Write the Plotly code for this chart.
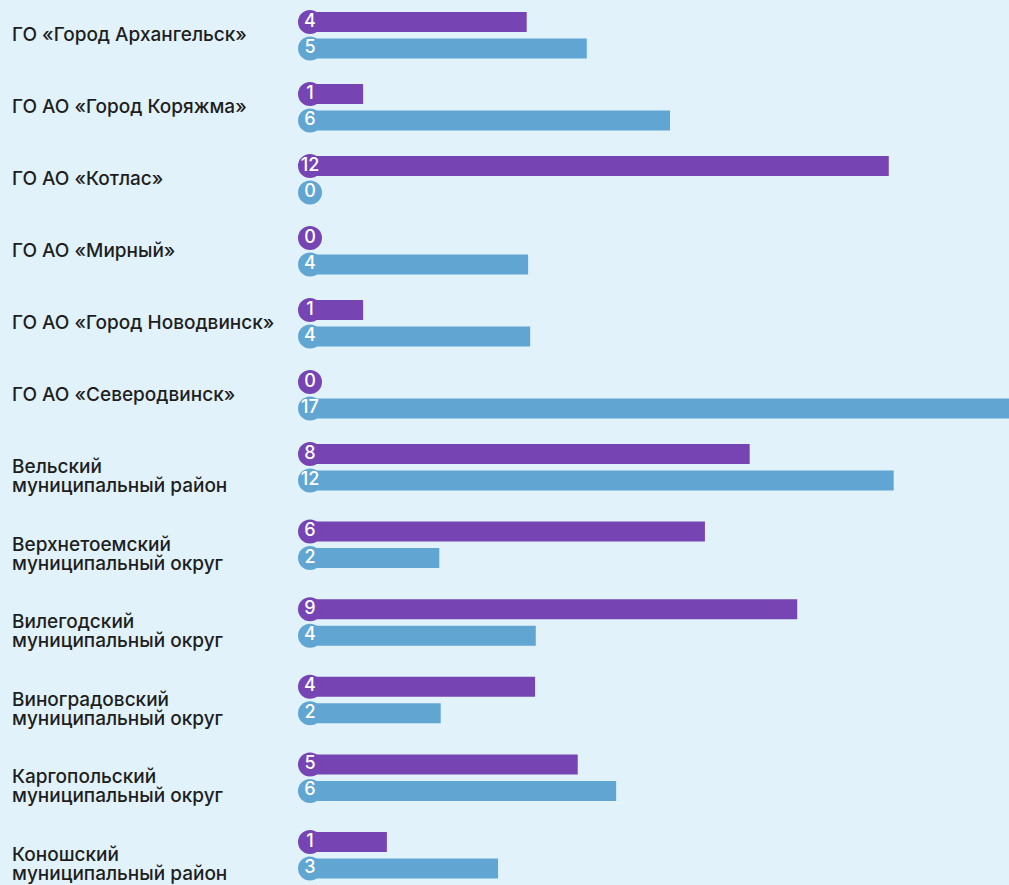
import plotly.graph_objects as go

# ---- data ----
categories = [
    "ГО «Город Архангельск»",
    "ГО АО «Город Коряжма»",
    "ГО АО «Котлас»",
    "ГО АО «Мирный»",
    "ГО АО «Город Новодвинск»",
    "ГО АО «Северодвинск»",
    "Вельский\nмуниципальный район",
    "Верхнетоемский\nмуниципальный округ",
    "Вилегодский\nмуниципальный округ",
    "Виноградовский\nмуниципальный округ",
    "Каргопольский\nмуниципальный округ",
    "Коношский\nмуниципальный район",
]
# numbers shown in the circles
purple_values = [4, 1, 12, 0, 1, 0, 8, 6, 9, 4, 5, 1]
blue_values = [5, 6, 0, 4, 4, 17, 12, 2, 4, 2, 6, 3]
# bar lengths (% of the bar track width)
purple_bar_pct = [31.0, 7.6, 82.8, 0, 7.6, 0, 62.9, 56.5, 69.7, 32.2, 38.3, 11.0]
blue_bar_pct = [39.6, 51.5, 0, 31.2, 31.5, 100, 83.5, 18.5, 32.3, 18.7, 43.8, 26.9]

# ---- style ----
PURPLE = "#7744B3"
BLUE = "#61A6D3"
BG = "#E1F2FA"
TEXT = "#1E1E1E"
FONT = "Inter"
W, H = 1009, 885
TRACK_LEFT = 310  # px where bars start (circle centre)

# layout of rows (pixel units on y axis)
purple_y, blue_y = [], []
y = 22.0
for lab in categories:
    purple_y.append(y)
    blue_y.append(y + 26.5)
    y += 77.6 if "\n" in lab else 72.0

px_per_unit = (W - TRACK_LEFT) / 100.0
x_min = -TRACK_LEFT / px_per_unit

fig = go.Figure()
fig.add_trace(go.Bar(x=purple_bar_pct, y=purple_y, orientation="h", width=20,
                     marker=dict(color=PURPLE, line=dict(width=0)), hoverinfo="skip"))
fig.add_trace(go.Bar(x=blue_bar_pct, y=blue_y, orientation="h", width=20,
                     marker=dict(color=BLUE, line=dict(width=0)), hoverinfo="skip"))
for ys, vals, col in [(purple_y, purple_values, PURPLE), (blue_y, blue_values, BLUE)]:
    fig.add_trace(go.Scatter(
        x=[0] * len(ys), y=ys, mode="markers+text",
        text=[str(v) for v in vals], textposition="middle center",
        textfont=dict(color="white", size=18, family=FONT, weight=500),
        marker=dict(size=24, color=col, line=dict(width=0)),
        cliponaxis=False, hoverinfo="skip",
    ))

label_x = x_min + 11 / px_per_unit
annotations = []
for lab, py in zip(categories, purple_y):
    for i, line in enumerate(lab.split("\n")):
        annotations.append(dict(
            x=label_x, y=py + 12.5 + 19 * i, xref="x", yref="y",
            text=line, showarrow=False, xanchor="left", yanchor="middle",
            font=dict(family=FONT, size=19, color=TEXT, weight=500), borderpad=0,
        ))

fig.update_layout(
    width=W, height=H,
    margin=dict(l=0, r=0, t=0, b=0),
    paper_bgcolor=BG, plot_bgcolor=BG,
    barmode="overlay", showlegend=False,
    annotations=annotations,
    xaxis=dict(range=[x_min, 100], visible=False, fixedrange=True),
    yaxis=dict(range=[H, 0], visible=False, fixedrange=True),
)

fig.write_html("out.html", config={"displayModeBar": False},
               post_script="document.body.style.margin='0';document.body.style.background='%s';" % BG)
